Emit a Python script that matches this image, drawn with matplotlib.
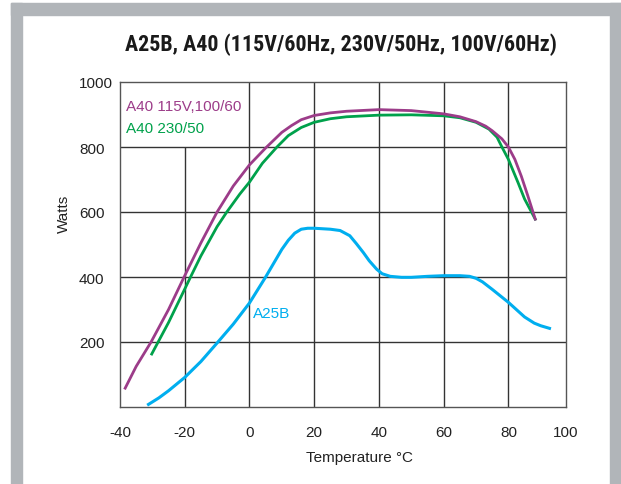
import matplotlib
matplotlib.use('Agg')
import matplotlib.pyplot as plt
from matplotlib.patches import Rectangle
from matplotlib import font_manager

plt.rcParams['font.family'] = ['Liberation Sans', 'DejaVu Sans']
plt.rcParams['axes.unicode_minus'] = False

# A40 115V, 100/60 (magenta)
a40_115_t = [-38.4, -35, -30.4, -25, -20.2, -15, -10, -5, 0, 5, 10, 13, 16, 20, 25, 30, 40, 50, 60, 65, 70, 73, 75, 78, 80, 82, 84, 86, 88.3]
a40_115_w = [58, 125, 200, 300, 400, 505, 600, 680, 745, 797, 845, 866, 884, 897, 905, 910, 915, 912, 902, 893, 878, 864, 850, 825, 800, 762, 710, 650, 578]

# A40 230/50 (green)
a40_230_t = [-30.2, -25, -18.2, -15, -10, -7, -3, 0, 4, 8.5, 12, 16, 20, 25, 30, 40, 50, 60, 65, 70, 74, 76.5, 78, 80, 83, 85, 88.3]
a40_230_w = [163, 260, 400, 465, 555, 600, 655, 692, 750, 800, 835, 860, 876, 887, 893, 898, 899, 896, 890, 876, 855, 830, 800, 762, 690, 640, 578]

# A25B (cyan)
a25b_t = [-31.2, -28, -25, -20, -15, -10, -5, 0, 5, 10, 12, 14, 16, 18, 20, 25, 28, 31, 33, 35.2, 37, 39.3, 41, 43.5, 47, 50, 55, 60, 65, 68, 70, 72, 75, 78, 80, 83, 85, 88, 90, 92.7]
a25b_w = [8, 28, 50, 91, 140, 197, 255, 320, 400, 485, 513, 535, 547, 550, 550, 547, 543, 527, 503, 475, 450, 424, 410, 402, 399, 399, 402, 404, 404, 402, 396, 385, 362, 338, 322, 295, 277, 258, 250, 242]

x_ticks = [-40, -20, 0, 20, 40, 60, 80, 97.8]
x_labels = ['-40', '-20', '0', '20', '40', '60', '80', '100']
y_ticks = [200, 400, 600, 800, 1000]

c_mag = '#9c3c89'
c_grn = '#00a14b'
c_cyan = '#00aeef'

# pick a condensed bold face for the title if one is installed
names = {f.name for f in font_manager.fontManager.ttflist}
title_fams = [n for n in ['Roboto Condensed', 'Liberation Sans Narrow', 'DejaVu Sans Condensed', 'Open Sans Condensed'] if n in names]
title_fams += ['DejaVu Sans']

fig = plt.figure(figsize=(6.21, 4.85), dpi=100)
W, H = 621, 485
frame = '#b1b5b9'
# grey frame (left, right, top)
fig.patches.append(Rectangle((11 / W, 0), 11 / W, (H - 4) / H, transform=fig.transFigure, color=frame, zorder=0))
fig.patches.append(Rectangle((610 / W, 0), 11 / W, (H - 4) / H, transform=fig.transFigure, color=frame, zorder=0))
fig.patches.append(Rectangle((11 / W, (H - 16) / H), 610 / W, 12 / H, transform=fig.transFigure, color=frame, zorder=0))

ax = fig.add_axes([120 / W, (H - 408) / H, 446 / W, 325 / H])
ax.set_xlim(-40, 97.8)
ax.set_ylim(0, 1000)

gc = '#333333'
ax.vlines(-20, 0, 800, color=gc, lw=1.0, zorder=1)
ax.vlines([0, 20, 40, 60, 80], 0, 1000, color=gc, lw=1.0, zorder=1)
ax.hlines([200, 400, 600, 800], -40, 97.8, color=gc, lw=1.0, zorder=1)
for s in ax.spines.values():
    s.set_color('#555555')
    s.set_linewidth(1.0)

ax.plot(a40_115_t, a40_115_w, color=c_mag, lw=2.0, solid_joinstyle='round', zorder=3)
ax.plot(a40_230_t, a40_230_w, color=c_grn, lw=2.0, solid_joinstyle='round', zorder=2)
ax.plot(a25b_t, a25b_w, color=c_cyan, lw=2.2, solid_joinstyle='round', zorder=2)

ax.text(-38.1, 926, 'A40 115V,100/60', color=c_mag, fontsize=11, va='center', ha='left')
ax.text(-38.1, 858, 'A40 230/50', color=c_grn, fontsize=11, va='center', ha='left')
ax.text(1.1, 289, 'A25B', color=c_cyan, fontsize=11, va='center', ha='left')

ax.set_xticks(x_ticks)
ax.set_xticklabels(x_labels)
ax.set_yticks(y_ticks)
ax.tick_params(length=0, labelsize=11, labelcolor='#222222')
ax.tick_params(axis='x', pad=13)
ax.tick_params(axis='y', pad=29.5)
for lab in ax.get_yticklabels():
    lab.set_horizontalalignment('left')

ax.set_xlabel('Temperature °C', fontsize=11, color='#222222')
ax.xaxis.set_label_coords((359 - 120) / 446, -0.132)
ax.set_ylabel('Watts', fontsize=11, color='#222222')
ax.yaxis.set_label_coords(-0.11, 0.597)

fig.text(341 / W, 1 - 45 / H, 'A25B, A40 (115V/60Hz, 230V/50Hz, 100V/60Hz)',
         ha='center', va='center', fontsize=15.8, fontweight='bold', color='#1a1a1a',
         family=title_fams, fontstretch='condensed')

fig.savefig('out.png', dpi=100)
